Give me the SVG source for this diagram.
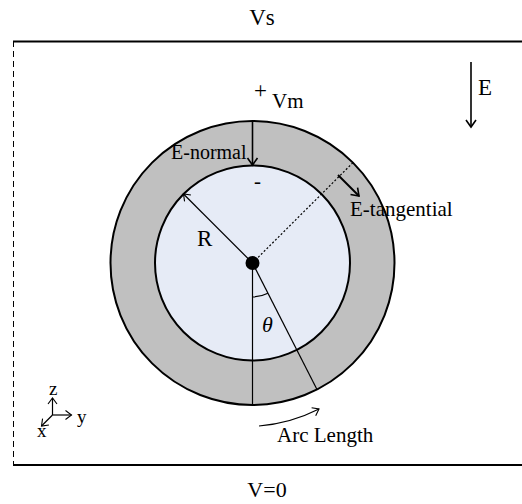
<svg xmlns="http://www.w3.org/2000/svg" width="522" height="504" viewBox="0 0 522 504" font-family="'Liberation Serif', 'DejaVu Serif', serif">
<style>
text { font-family: 'Liberation Serif', 'DejaVu Serif', serif; fill: #000; }
.ln { stroke: #000; fill: none; }
</style>
<defs>
<marker id="ah" markerUnits="userSpaceOnUse" markerWidth="20" markerHeight="20" viewBox="-10 -10 20 20" refX="0" refY="0" orient="auto">
<path d="M-7,-5 L0,0 L-7,5" fill="none" stroke="#000" stroke-width="1.6"/>
</marker>
<marker id="ahs" markerUnits="userSpaceOnUse" markerWidth="20" markerHeight="20" viewBox="-10 -10 20 20" refX="0" refY="0" orient="auto">
<path d="M-6,-4.5 L0,0 L-6,4.5" fill="none" stroke="#000" stroke-width="1.1"/>
</marker>
</defs>
<rect width="522" height="504" fill="#fff"/>

<g id="domain">
<line class="ln" x1="13" y1="41.5" x2="522" y2="41.5" stroke-width="2"/>
<line class="ln" x1="13" y1="465" x2="522" y2="465" stroke-width="2"/>
<line class="ln" x1="13.5" y1="41" x2="13.5" y2="465" stroke-width="1" stroke-dasharray="6,4"/>
<text x="262" y="25" font-size="23" text-anchor="middle">Vs</text>
<text x="267" y="497" font-size="22" text-anchor="middle">V=0</text>
</g>

<g id="cell">
<circle cx="252.5" cy="263" r="142" fill="#c0c0c0" stroke="#000" stroke-width="2"/>
<circle cx="252.5" cy="263" r="97.5" fill="#e6ebf6" stroke="#000" stroke-width="2"/>
<circle cx="252.5" cy="263" r="7" fill="#000"/>
<text x="257.5" y="188" font-size="21" text-anchor="middle">-</text>
<text x="260.5" y="98" font-size="23" text-anchor="middle">+</text>
<text x="272" y="108" font-size="21">Vm</text>
<text x="197" y="246" font-size="23">R</text>
<text x="262" y="332" font-size="22" font-style="italic">θ</text>
<text x="171" y="159" font-size="20">E-normal</text>
<text x="350" y="216" font-size="21">E-tangential</text>
<text x="277" y="442" font-size="21">Arc Length</text>
</g>

<g id="field">
<text x="478" y="95" font-size="23">E</text>
</g>

<g id="axes">
<text x="49" y="395" font-size="19">z</text>
<text x="77" y="423" font-size="19">y</text>
<text x="37" y="437" font-size="19">x</text>
</g>

<g id="connectors">
<line class="ln" x1="252.5" y1="121" x2="252.5" y2="165" stroke-width="1.6" marker-end="url(#ah)"/>
<line class="ln" x1="252.5" y1="263" x2="183.5" y2="194" stroke-width="1.2" marker-end="url(#ahs)"/>
<line class="ln" x1="252.5" y1="263" x2="353" y2="162.6" stroke-width="1.2" stroke-dasharray="2,2"/>
<line class="ln" x1="338" y1="175" x2="359" y2="196" stroke-width="2" marker-end="url(#ah)"/>
<line class="ln" x1="252.5" y1="263" x2="252.5" y2="405" stroke-width="1.2"/>
<line class="ln" x1="252.5" y1="263" x2="317" y2="389.5" stroke-width="1.2"/>
<path class="ln" d="M252.5,297 A34,34 0 0 0 267.9,293.3" stroke-width="1.2"/>
<path class="ln" d="M259,426 A162,162 0 0 0 319,409" stroke-width="1.2" marker-end="url(#ahs)"/>
<line class="ln" x1="471" y1="62" x2="471" y2="127" stroke-width="1.6" marker-end="url(#ah)"/>
<line class="ln" x1="52.5" y1="415" x2="52.5" y2="398" stroke-width="1.2" marker-end="url(#ahs)"/>
<line class="ln" x1="52.5" y1="415" x2="71.5" y2="415" stroke-width="1.2" marker-end="url(#ahs)"/>
<line class="ln" x1="52.5" y1="415" x2="41.5" y2="426" stroke-width="1.2" marker-end="url(#ahs)"/>
</g>
</svg>
